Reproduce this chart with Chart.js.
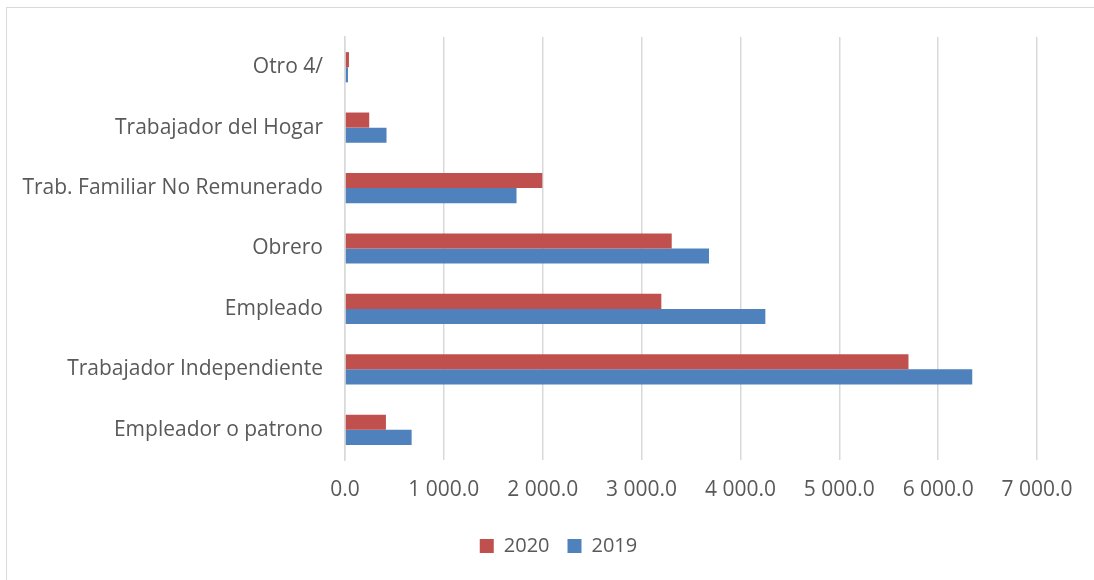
<!DOCTYPE html>
<html>
<head>
<meta charset="utf-8">
<script src="https://cdn.jsdelivr.net/npm/chart.js@4"></script>
<style>
  html, body { margin: 0; padding: 0; background: #fff; overflow: hidden; }
  #frame {
    position: absolute; left: 6px; top: 7px;
    width: 1100px; height: 590px;
    border: 1px solid #d9d9d9;
  }
  #wrap { position: absolute; left: 0; top: 0; width: 1094px; height: 580px; }
</style>
</head>
<body>
<div id="frame"></div>
<div id="wrap"><canvas id="chart" width="1094" height="580"></canvas></div>
<script>
// categories, top to bottom
const categories = [
    'Otro 4/',
    'Trabajador del Hogar',
    'Trab. Familiar No Remunerado',
    'Obrero',
    'Empleado',
    'Trabajador Independiente',
    'Empleador o patrono'
];
const values2020 = [40, 245, 1996, 3305, 3200, 5700, 414];
const values2019 = [30, 420, 1735, 3682, 4252, 6345, 674];
const xTicks = [0, 1000, 2000, 3000, 4000, 5000, 6000, 7000];

const textColor = '#595959';
const gridColor = '#d9d9d9';
const fontFamily = '"Open Sans", Lato, sans-serif';

function fmt(v) {
    // "1 000.0" style
    const s = Number(v).toFixed(1);
    const [i, d] = s.split('.');
    return i.replace(/\B(?=(\d{3})+(?!\d))/g, ' ') + '.' + d;
}

// nudge the legend a bit right, like the original
const legendShift = {
    id: 'legendShift',
    afterLayout(chart) {
        const l = chart.legend;
        if (l) { l.left += 40; l.right += 40; }
    }
};

const ctx = document.getElementById('chart').getContext('2d');
new Chart(ctx, {
    type: 'bar',
    data: {
        labels: categories,
        datasets: [
            {
                label: '2020',
                data: values2020,
                backgroundColor: '#C0504D',
                categoryPercentage: 0.5,
                barPercentage: 1.0
            },
            {
                label: '2019',
                data: values2019,
                backgroundColor: '#4F81BD',
                categoryPercentage: 0.5,
                barPercentage: 1.0
            }
        ]
    },
    options: {
        indexAxis: 'y',
        responsive: false,
        animation: false,
        layout: { padding: { top: 37, right: 57, left: 0, bottom: 14 } },
        scales: {
            x: {
                min: 0,
                max: 7000,
                afterBuildTicks: (scale) => { scale.ticks = xTicks.map(v => ({ value: v })); },
                afterFit: (scale) => { scale.height = 58; },
                grid: { color: gridColor, lineWidth: 1.5, drawTicks: false },
                border: { display: false },
                ticks: {
                    color: textColor,
                    font: { family: fontFamily, size: 21 },
                    padding: 17,
                    callback: (v) => fmt(v)
                }
            },
            y: {
                afterFit: (scale) => { scale.width = 345; },
                grid: { display: false, drawTicks: false },
                border: { display: true, color: gridColor, width: 1.5 },
                ticks: {
                    color: textColor,
                    font: { family: fontFamily, size: 21 },
                    padding: 22
                }
            }
        },
        plugins: {
            legend: {
                position: 'bottom',
                labels: {
                    color: textColor,
                    font: { family: fontFamily, size: 20 },
                    boxWidth: 14,
                    boxHeight: 14,
                    padding: 18
                }
            },
            tooltip: { enabled: false }
        }
    },
    plugins: [legendShift]
});
</script>
</body>
</html>
